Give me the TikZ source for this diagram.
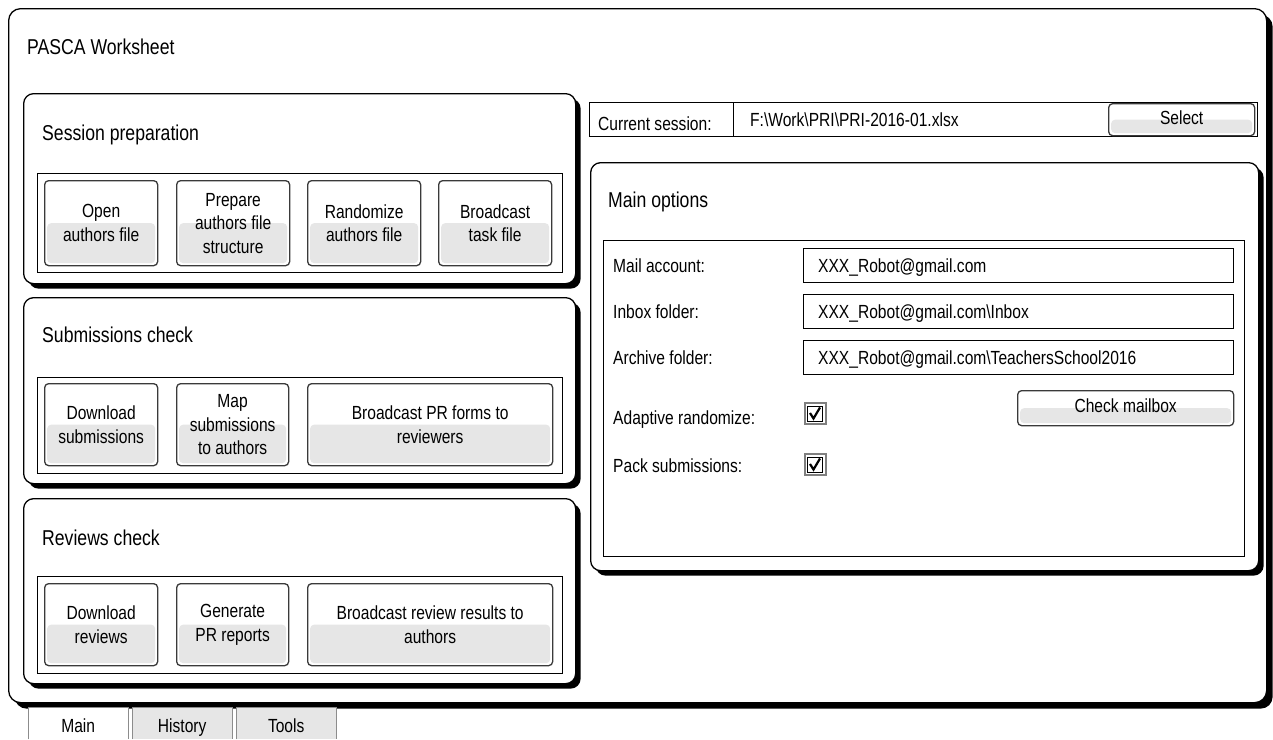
\documentclass[tikz,border=0pt]{standalone}
\usepackage{fontspec}
\setmainfont{Liberation Sans}[FakeStretch=0.82]
\usetikzlibrary{shadows}
\definecolor{GrisBouton}{HTML}{E6E6E6}
\definecolor{GrisBord}{HTML}{3A3A3A}
\definecolor{GrisOnglet}{HTML}{8C8C8C}
\newcommand{\PoliceTitre}{\fontsize{21.5}{25}\selectfont}
\newcommand{\PoliceTexte}{\fontsize{19}{23.5}\selectfont}
\tikzset{
  ombre/.style={drop shadow={shadow xshift=#1, shadow yshift=-#1, fill=black, opacity=1}},
  fenetre/.style={draw, fill=white, line width=1.3pt, rounded corners=12pt, anchor=north west, inner sep=0pt, ombre=6pt},
  panneau/.style={draw, fill=white, line width=1.3pt, rounded corners=10pt, anchor=north west, inner sep=0pt, ombre=5pt},
  cadre/.style={draw, fill=white, line width=1.3pt, anchor=north west, inner sep=0pt},
  champ/.style={draw, fill=white, line width=1pt, anchor=north west, inner sep=0pt},
  bouton/.style={draw=GrisBord, fill=white, line width=1.3pt, rounded corners=4pt, anchor=north west, inner sep=0pt, align=center, font=\PoliceTexte,
    path picture={\fill[GrisBouton] ([xshift=2.5pt]path picture bounding box.west) rectangle ([xshift=-2.5pt,yshift=2.5pt]path picture bounding box.south east);}},
  titre/.style={anchor=base west, inner sep=0pt, font=\PoliceTitre},
  etiquette/.style={anchor=base west, inner sep=0pt, font=\PoliceTexte},
  onglet/.style={fill=#1, anchor=north west, inner sep=0pt, minimum width=100, minimum height=32,
    text height=18, text depth=0, font=\PoliceTexte},
  bordonglet/.style={draw=GrisOnglet, line width=1pt},
  coche/.style={draw=gray, line width=2pt, fill=white, minimum size=21, inner sep=0pt,
    path picture={
      \draw[black, line width=0.8pt] ([shift={(3pt,-3pt)}]path picture bounding box.north west) rectangle ([shift={(-3pt,3pt)}]path picture bounding box.south east);
      \draw[black, line width=2.2pt, shift={(path picture bounding box.center)}] (-5,-0.5) -- (-1.5,5) -- (5,-6);}}
}
\begin{document}
\begin{tikzpicture}[x=1pt, y=-1pt]
  \useasboundingbox (0,0) rectangle (1273,739);
  % fenetre principale
  \node[fenetre, minimum width=1258, minimum height=694] (win) at (8,8) {};
  \node[titre] (wintitle) at (27,54) {PASCA Worksheet};

  % onglets
  \node[onglet=white] (tabmain) at (28,707) {Main};
  \node[onglet=GrisBouton] (tabhist) at (132,707) {History};
  \node[onglet=GrisBouton] (tabtools) at (236,707) {Tools};
  \foreach \t in {tabmain,tabhist,tabtools}
    \draw[bordonglet] (\t.south west) -- (\t.north west) -- (\t.north east) -- (\t.south east);

  % session preparation
  \node[panneau, minimum width=552, minimum height=190] (prep) at (23,93) {};
  \node[titre] (preptitle) at (42,140.5) {Session preparation};
  \node[cadre, minimum width=525, minimum height=99] (prepgroup) at (37,173) {};
  \foreach \bx/\bn/\bt in {44/open/{Open\\authors file}, 176/structure/{Prepare\\authors file\\structure},
                           307/randomize/{Randomize\\authors file}, 438/broadcast/{Broadcast\\task file}}
    \node[bouton, minimum width=113, minimum height=85] (\bn) at (\bx,180) {\bt};

  % submissions check
  \node[panneau, minimum width=552, minimum height=186] (subm) at (23,297) {};
  \node[titre] (submtitle) at (42,342) {Submissions check};
  \node[cadre, minimum width=525, minimum height=96] (submgroup) at (37,377) {};
  \node[bouton, minimum width=113, minimum height=82] (download) at (44,383) {Download\\submissions};
  \node[bouton, minimum width=112, minimum height=82] (map) at (176,383) {Map\\submissions\\to authors};
  \node[bouton, minimum width=245, minimum height=82] (broadcastpr) at (307,383) {Broadcast PR forms to\\reviewers};

  % reviews check
  \node[panneau, minimum width=552, minimum height=185] (rev) at (23,498) {};
  \node[titre] (revtitle) at (42,545) {Reviews check};
  \node[cadre, minimum width=525, minimum height=97] (revgroup) at (37,576) {};
  \node[bouton, minimum width=113, minimum height=82] (downloadrev) at (44,583) {Download\\reviews};
  \node[bouton, minimum width=112, minimum height=82] (reports) at (176,583) {Generate\\PR reports};
  \node[bouton, minimum width=245, minimum height=82] (broadcastrev) at (307,583) {Broadcast review results to\\authors};

  % session courante
  \node[champ, minimum width=144, minimum height=34] (sesslabel) at (589,102) {};
  \node[champ, minimum width=524, minimum height=34] (sessfile) at (733,102) {};
  \node[etiquette] (sesstext) at (598,130) {Current session:};
  \node[etiquette] (sessvalue) at (750,126) {F:\textbackslash Work\textbackslash PRI\textbackslash PRI-2016-01.xlsx};
  \node[bouton, minimum width=146, minimum height=32] (select) at (1108,103) {\raisebox{4pt}{Select}};

  % main options
  \node[panneau, minimum width=668, minimum height=408] (opts) at (590,162) {};
  \node[titre] (optstitle) at (608,207) {Main options};
  \node[cadre, minimum width=641, minimum height=316] (optsgroup) at (603,240) {};
  \foreach \ly/\ln/\lt/\lv in {248/mail/Mail account:/XXX\_Robot@gmail.com,
                               294/inbox/Inbox folder:/XXX\_Robot@gmail.com\textbackslash Inbox,
                               340/archive/Archive folder:/XXX\_Robot@gmail.com\textbackslash TeachersSchool2016} {
    \node[etiquette] (\ln-label) at (613,\ly+24.5) {\lt};
    \node[champ, minimum width=430, minimum height=34] (\ln-field) at (803,\ly) {};
    \node[etiquette] (\ln-value) at (818,\ly+24.5) {\lv};
  }
  \node[etiquette] (adaptlabel) at (613,424.5) {Adaptive randomize:};
  \node[coche] (adaptbox) at (815,413.5) {};
  \node[etiquette] (packlabel) at (613,472.5) {Pack submissions:};
  \node[coche] (packbox) at (815,464.5) {};
  \node[bouton, minimum width=216, minimum height=35] (checkmail) at (1017,390) {\raisebox{5pt}{Check mailbox}};
\end{tikzpicture}
\end{document}
